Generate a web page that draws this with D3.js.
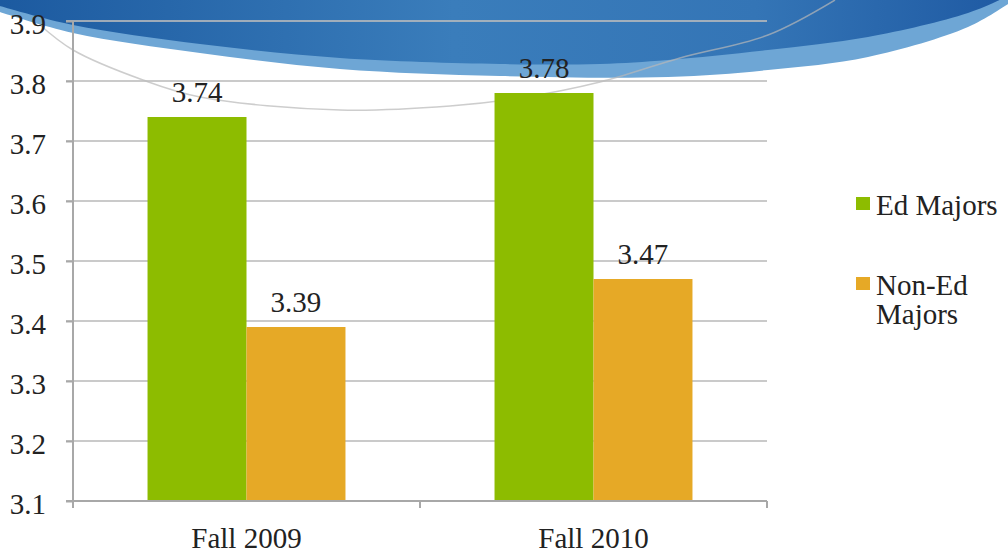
<!DOCTYPE html>
<html>
<head>
<meta charset="utf-8">
<script src="https://cdn.jsdelivr.net/npm/d3@7"></script>
<style>
  svg text { font-family: "Liberation Serif", "Times New Roman", Tinos, serif !important; }
</style>
</head>
<body style="margin:0">
<svg id="chart" width="1008" height="553"></svg>
<script>
/*
Ed Majors vs Non-Ed Majors grouped bar chart
*/

// Chart data
const categories = ['Fall 2009', 'Fall 2010'];
const seriesNames = ['Ed Majors', 'Non-Ed Majors'];
const edMajors = [3.74, 3.78];
const nonEdMajors = [3.39, 3.47];
const yTicks = [3.1, 3.2, 3.3, 3.4, 3.5, 3.6, 3.7, 3.8, 3.9];

const colors = ['#8dbc00', '#e6a926'];
const fontFamily = '"Liberation Serif", "Times New Roman", Tinos, serif';

drawChart();

function drawChart(){

    const svg = d3.select('#chart');

    // Plot area
    const plotLeft = 73, plotRight = 767, plotTop = 21, plotBottom = 501;

    const x0 = d3.scaleBand().domain(categories).range([plotLeft, plotRight]).padding(0);
    const x1 = d3.scaleBand().domain(seriesNames).range([0, x0.bandwidth()])
        .paddingInner(0).paddingOuter(0.753);
    const y = d3.scaleLinear().domain([3.1, 3.9]).range([plotBottom, plotTop]);

    // Slide background swoosh (decoration behind the chart)
    const defs = svg.append('defs');
    const grad = defs.append('linearGradient').attr('id', 'swooshGrad')
        .attr('x1', '0%').attr('x2', '100%').attr('y1', '0%').attr('y2', '0%');
    grad.append('stop').attr('offset', '0%').attr('stop-color', '#1c5aa0');
    grad.append('stop').attr('offset', '45%').attr('stop-color', '#3a7dbb');
    grad.append('stop').attr('offset', '75%').attr('stop-color', '#3475b6');
    grad.append('stop').attr('offset', '100%').attr('stop-color', '#1f5aa3');

    const curve = d3.line().curve(d3.curveCatmullRom);

    const lightEdge = [[0,12],[73,33],[200,53],[340,69],[500,76],[668,77],[768,70],[868,57],[968,27],[1008,4]];
    svg.append('path')
        .attr('d', curve(lightEdge) + 'L1008,0L0,0Z')
        .attr('fill', '#6ea6d5');

    const darkEdge = [[0,6],[73,25],[200,44],[340,58],[500,64],[600,64],[668,60],[768,50],[868,37],[968,13],[1008,-4]];
    svg.append('path')
        .attr('d', curve(darkEdge) + 'L1008,0L0,0Z')
        .attr('fill', 'url(#swooshGrad)');

    // Thin gray arc line
    const arc = [[40,25],[73,50],[143,80],[200,97],[340,110],[450,106],[520,98],[600,82],[680,58],[768,35],[835,0]];
    svg.append('path')
        .attr('d', curve(arc))
        .attr('fill', 'none')
        .attr('stroke', '#b8b8b8')
        .attr('stroke-opacity', 0.7)
        .attr('stroke-width', 1.5);

    // Gridlines
    svg.append('g')
        .selectAll('line')
        .data(yTicks.slice(1))
        .join('line')
        .attr('x1', plotLeft - 7)
        .attr('x2', plotRight)
        .attr('y1', d => y(d))
        .attr('y2', d => y(d))
        .attr('stroke', '#bdbdbd')
        .attr('stroke-opacity', 0.8)
        .attr('stroke-width', 2);

    // Y axis
    const gy = svg.append('g')
        .attr('transform', `translate(${plotLeft},0)`)
        .call(d3.axisLeft(y).tickValues(yTicks).tickSize(7).tickFormat(d3.format('.1f')))
        .attr('font-family', fontFamily)
        .attr('font-size', 29);
    gy.select('.domain').attr('stroke', '#a8a8a8').attr('stroke-width', 2).attr('d', `M0,${plotTop}V${plotBottom}`);
    gy.selectAll('.tick line').attr('stroke', '#a8a8a8').attr('stroke-width', 2);
    gy.selectAll('.tick text')
        .attr('x', -27)
        .attr('dy', '0.42em')
        .attr('fill', '#222');

    // Bars
    const groups = svg.append('g')
        .attr('font-family', fontFamily)
        .attr('font-size', 29)
        .selectAll('g')
        .data(categories.map((c, i) => ({cat: c, values: [edMajors[i], nonEdMajors[i]]})))
        .join('g')
        .attr('transform', d => `translate(${x0(d.cat)},0)`);

    groups.selectAll('rect')
        .data(d => d.values.map((v, j) => ({name: seriesNames[j], value: v, color: colors[j]})))
        .join('rect')
        .attr('x', d => x1(d.name))
        .attr('width', x1.bandwidth())
        .attr('y', d => y(d.value))
        .attr('height', d => plotBottom - y(d.value))
        .attr('fill', d => d.color);

    // Value labels
    groups.selectAll('text')
        .data(d => d.values.map((v, j) => ({name: seriesNames[j], value: v})))
        .join('text')
        .attr('x', d => x1(d.name) + x1.bandwidth() / 2)
        .attr('y', d => y(d.value) - 15)
        .attr('text-anchor', 'middle')
        .attr('fill', '#222')
        .text(d => d3.format('.2f')(d.value));

    // X axis
    const gx = svg.append('g')
        .attr('transform', `translate(0,${plotBottom})`)
        .call(d3.axisBottom(x0).tickSize(0).tickPadding(26))
        .attr('font-family', fontFamily)
        .attr('font-size', 29);
    gx.select('.domain').attr('stroke', '#a8a8a8').attr('stroke-width', 2).attr('d', `M${plotLeft - 7},0H${plotRight}`);
    gx.selectAll('.tick text').attr('fill', '#222');

    // Category boundary ticks
    const bounds = [plotLeft].concat(categories.map(c => x0(c) + x0.bandwidth()));
    svg.append('g')
        .selectAll('line')
        .data(bounds)
        .join('line')
        .attr('x1', d => d)
        .attr('x2', d => d)
        .attr('y1', plotBottom)
        .attr('y2', plotBottom + 7)
        .attr('stroke', '#a8a8a8')
        .attr('stroke-width', 2);

    // Legend
    const legend = svg.append('g')
        .attr('transform', 'translate(856,0)')
        .attr('font-family', fontFamily)
        .attr('font-size', 29);
    const legendRows = [
        {lines: ['Ed Majors'], y: 215},
        {lines: ['Non-Ed', 'Majors'], y: 295}
    ];
    legendRows.forEach((row, i) => {
        legend.append('rect')
            .attr('x', 0)
            .attr('y', row.y - 18)
            .attr('width', 14)
            .attr('height', 13)
            .attr('fill', colors[i]);
        row.lines.forEach((t, k) => {
            legend.append('text')
                .attr('x', 20)
                .attr('y', row.y + k * 29)
                .attr('fill', '#222')
                .text(t);
        });
    });

    // Force the serif face on every label
    svg.selectAll('text').style('font-family', fontFamily, 'important');
}
</script>
</body>
</html>
